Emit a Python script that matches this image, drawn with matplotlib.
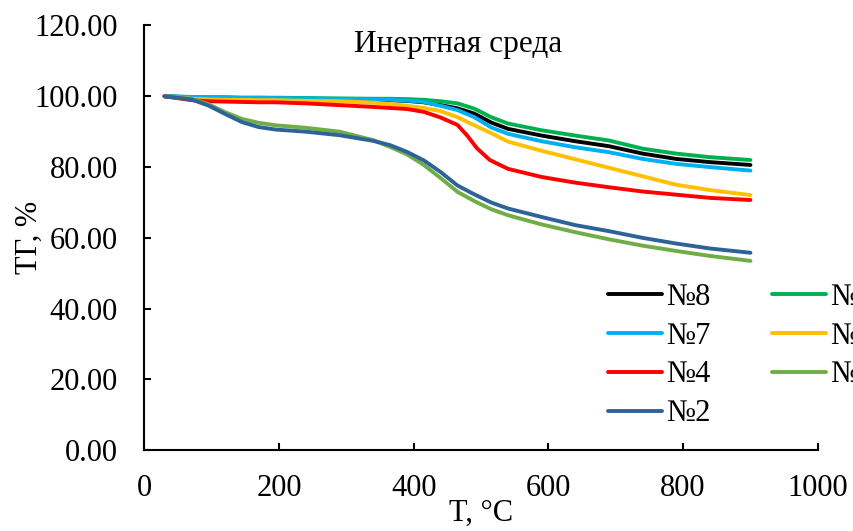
import matplotlib
matplotlib.use("Agg")
import matplotlib.pyplot as plt

plt.rcParams['font.family'] = ['Liberation Serif', 'DejaVu Serif']

# температура, °C
temp = [30, 70, 95, 120, 145, 170, 195, 240, 290, 340, 365, 390, 415,
        440, 465, 490, 515, 540, 590, 640, 690, 740, 790, 840, 900]
# для №4 беру більше точок на крутій ділянці
temp_4 = [30, 70, 95, 120, 145, 170, 195, 240, 290, 340, 365, 390, 415,
          440, 465, 479, 494, 513, 540, 590, 640, 690, 740, 790, 840, 900]

# ТГ, %
tg_8 = [100, 99.7, 99.6, 99.6, 99.5, 99.5, 99.4, 99.3, 99.1, 99.0, 98.9, 98.7, 98.3,
        97.5, 96.6, 95.1, 92.6, 90.8, 88.9, 87.3, 85.9, 83.8, 82.3, 81.4, 80.6]
tg_9 = [100, 99.8, 99.7, 99.7, 99.6, 99.6, 99.6, 99.5, 99.4, 99.3, 99.3, 99.2, 99.0,
        98.6, 98.0, 96.5, 94.1, 92.3, 90.4, 88.9, 87.5, 85.2, 83.8, 82.8, 82.0]
tg_7 = [100, 99.8, 99.7, 99.7, 99.6, 99.6, 99.5, 99.4, 99.2, 99.1, 99.0, 98.8, 98.4,
        97.3, 96.1, 94.1, 91.2, 89.4, 87.3, 85.6, 84.2, 82.3, 80.9, 80.0, 79.0]
tg_9a = [100, 99.3, 99.1, 99.0, 99.0, 98.9, 98.9, 98.7, 98.6, 98.2, 97.8, 97.3, 96.7,
         95.8, 94.1, 91.8, 89.6, 87.2, 84.6, 82.2, 79.8, 77.4, 75.0, 73.5, 72.1]
tg_4 = [100, 98.9, 98.6, 98.5, 98.4, 98.3, 98.3, 98.0, 97.5, 97.0, 96.7, 96.4, 95.6,
        94.0, 91.9, 89.0, 85.3, 82.0, 79.5, 77.2, 75.6, 74.3, 73.1, 72.2, 71.3, 70.7]
tg_9b = [100, 99.3, 97.8, 95.5, 93.6, 92.5, 91.8, 91.1, 90.0, 87.6, 85.7, 83.6, 80.6,
         76.9, 73.0, 70.4, 68.1, 66.4, 63.8, 61.6, 59.6, 57.8, 56.3, 54.9, 53.5]
tg_2 = [100, 99.1, 97.4, 95.0, 92.7, 91.3, 90.6, 90.0, 89.0, 87.4, 86.2, 84.3, 81.9,
        78.6, 74.8, 72.3, 70.0, 68.3, 65.9, 63.6, 61.9, 60.0, 58.4, 57.0, 55.8]

labels = ['№8', '№9', '№7', '№9а', '№4', '№9б', '№2']
colors = ['#000000', '#00B050', '#00B0F0', '#FFC000', '#FF0000', '#70AD47', '#2E6399']

fig = plt.figure(figsize=(8.54, 5.31), dpi=100)
ax = fig.add_axes([0.169, 0.152, 0.7886, 0.800])

series = [(temp, tg_8), (temp, tg_9), (temp, tg_7), (temp, tg_9a),
          (temp_4, tg_4), (temp, tg_9b), (temp, tg_2)]
lines = {}
for (xs, ys), lab, col in zip(series, labels, colors):
    ln, = ax.plot(xs, ys, color=col, lw=2.8, label=lab,
                  solid_capstyle='round', solid_joinstyle='round')
    lines[lab] = ln

ax.set_xlim(0, 1000)
ax.set_ylim(0, 120)
ax.set_xticks(range(0, 1001, 200))
ax.set_yticks(range(0, 121, 20))
ax.set_yticklabels([f'{v:.2f}' for v in range(0, 121, 20)])
ax.tick_params(direction='in', length=5, width=1.5, labelsize=22)
ax.tick_params(axis='x', pad=17)
ax.tick_params(axis='y', pad=19)
for s in ['top', 'right']:
    ax.spines[s].set_visible(False)
for s in ['left', 'bottom']:
    ax.spines[s].set_linewidth(1.5)

ax.set_xlabel('T, °C', fontsize=22, labelpad=-3)
ax.set_ylabel('ТГ, %', fontsize=22, labelpad=-7)

fig.text(0.537, 0.917, 'Инертная среда', fontsize=22.5, ha='center', va='center')

# порядок як в Excel (по рядках), тому колонки збираю вручну
order = ['№8', '№7', '№4', '№2', '№9', '№9а', '№9б']
fig.legend([lines[k] for k in order], order, loc='upper left',
           bbox_to_anchor=(0.680, 0.519), ncol=2, frameon=False, fontsize=22,
           handlelength=1.77, handletextpad=0.13, columnspacing=2.0, labelspacing=0.32)

fig.savefig('out.png', dpi=100)
